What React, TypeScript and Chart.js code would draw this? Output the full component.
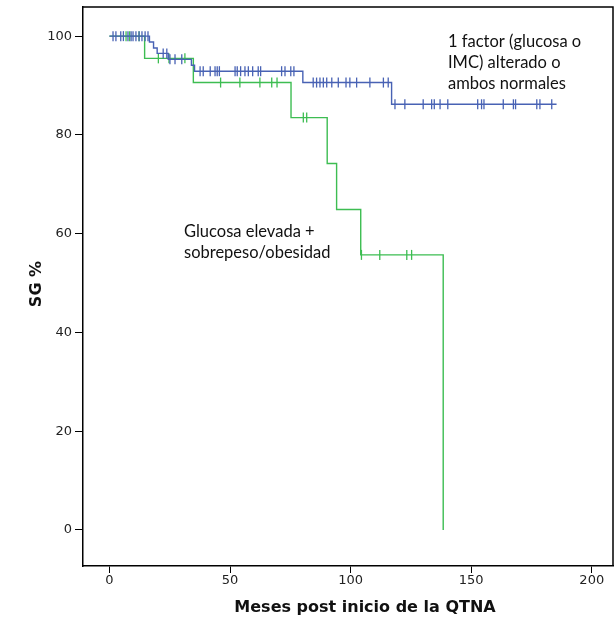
import React, { useEffect, useRef } from "react";
import { Chart, registerables } from "chart.js";

Chart.register(...registerables);

// Kaplan-Meier step data (event times in months, survival %)
const blueTimes = [0, 16.6, 18.3, 19.8, 24.4, 34.0, 35.3, 80.2, 117.0, 185.4];
const blueSurv = [100, 98.8, 97.6, 96.5, 95.3, 94.1, 92.9, 90.6, 86.2, 86.2];
const greenTimes = [0, 14.6, 34.8, 75.3, 90.3, 94.2, 104.2, 138.4];
const greenSurv = [100, 95.5, 90.6, 83.5, 74.2, 64.9, 55.7, 0];

// Censored observations (months)
const blueCensor = [1.5, 2.7, 4.7, 5.8, 7.7, 9.0, 9.8, 11.0, 12.3, 13.5, 14.8, 16.0, 22.3, 23.8, 25.1, 27.2, 30.0, 37.6, 38.9, 41.8, 43.8, 44.7, 45.6, 52.1, 53.0, 54.4, 56.2, 57.6, 59.4, 61.7, 62.7, 71.4, 72.8, 75.2, 76.5, 84.5, 85.9, 87.3, 88.7, 90.1, 92.2, 94.9, 98.1, 99.7, 102.5, 108.0, 113.6, 115.6, 118.4, 122.5, 130.1, 133.6, 134.7, 137.1, 140.3, 152.7, 154.3, 155.3, 163.3, 167.5, 168.4, 177.2, 178.5, 183.4];
const greenCensor = [6.9, 8.4, 12.3, 20.3, 24.7, 31.3, 46.1, 54.1, 62.4, 67.3, 69.5, 80.4, 81.8, 104.5, 112.1, 123.3, 125.3];

const xTicks = [0, 50, 100, 150, 200];
const yTicks = [0, 20, 40, 60, 80, 100];

const xTitle = "Meses post inicio de la QTNA";
const yTitle = "SG %";
const blueLabel = ["1 factor (glucosa o", "IMC) alterado o", "ambos normales"];
const greenLabel = ["Glucosa elevada +", "sobrepeso/obesidad"];

const BLUE = "#4862b4";
const GREEN = "#3dbd52";

function survAt(times: number[], surv: number[], t: number) {
  let v = surv[0];
  for (let i = 0; i < times.length; i++) if (times[i] <= t) v = surv[i];
  return v;
}

const decorPlugin = {
  id: "decor",
  afterDraw(chart: any) {
    const { ctx, chartArea } = chart;
    ctx.save();
    // frame top & right
    ctx.strokeStyle = "#000";
    ctx.lineWidth = 1.5;
    ctx.beginPath();
    ctx.moveTo(chartArea.left, chartArea.top);
    ctx.lineTo(chartArea.right, chartArea.top);
    ctx.lineTo(chartArea.right, chartArea.bottom);
    ctx.stroke();
    // annotations
    ctx.fillStyle = "#111";
    ctx.textAlign = "left";
    ctx.textBaseline = "alphabetic";
    ctx.font = "16.5px Lato";
    blueLabel.forEach((s, i) => ctx.fillText(s, 448, 47 + i * 20.8));
    greenLabel.forEach((s, i) => ctx.fillText(s, 184, 237 + i * 20.8));
    // axis titles
    ctx.fillStyle = "#111";
    ctx.font = "bold 16px 'DejaVu Sans'";
    ctx.textAlign = "center";
    ctx.fillText(xTitle, 365, 612);
    ctx.translate(37, 284);
    ctx.rotate(-Math.PI / 2);
    ctx.textBaseline = "middle";
    ctx.fillText(yTitle, 0, 0);
    ctx.restore();
  },
};

export default function App() {
  const ref = useRef<HTMLCanvasElement>(null);
  useEffect(() => {
    const stepData = (t: number[], s: number[]) => t.map((x, i) => ({ x, y: s[i] }));
    const censorData = (c: number[], t: number[], s: number[]) => c.map((x) => ({ x, y: survAt(t, s, x) }));
    const censorStyle = (color: string) => ({
      type: "scatter" as const,
      showLine: false,
      pointStyle: "line" as const,
      rotation: 90,
      pointRadius: 5,
      pointBorderWidth: 1.3,
      borderColor: color,
      backgroundColor: color,
    });
    const chart = new Chart(ref.current!, {
      type: "line",
      data: {
        datasets: [
          {
            label: "blue",
            data: stepData(blueTimes, blueSurv),
            stepped: "before",
            borderColor: BLUE,
            borderWidth: 1.4,
            pointRadius: 0,
            fill: false,
          } as any,
          { label: "blueC", data: censorData(blueCensor, blueTimes, blueSurv), ...censorStyle(BLUE) } as any,
          {
            label: "green",
            data: stepData(greenTimes, greenSurv),
            stepped: "before",
            borderColor: GREEN,
            borderWidth: 1.4,
            pointRadius: 0,
            fill: false,
          } as any,
          { label: "greenC", data: censorData(greenCensor, greenTimes, greenSurv), ...censorStyle(GREEN) } as any,
        ],
      },
      options: {
        animation: false,
        responsive: false,
        devicePixelRatio: 1,
        layout: { autoPadding: false, padding: { top: 7, right: 1, left: 0, bottom: 0 } },
        plugins: { legend: { display: false }, tooltip: { enabled: false } },
        scales: {
          x: {
            type: "linear",
            min: -10.95,
            max: 208.8,
            afterBuildTicks: (s: any) => { s.ticks = xTicks.map((v) => ({ value: v })); },
            afterFit: (s: any) => { s.height = 56; s.paddingLeft = 0; s.paddingRight = 0; },
            grid: { drawOnChartArea: false, drawTicks: true, tickLength: 7, color: "#000", lineWidth: 1 },
            border: { display: true, color: "#000", width: 1.5 },
            ticks: { font: { family: "DejaVu Sans", size: 13 }, color: "#222", padding: 0, maxRotation: 0 },
          },
          y: {
            type: "linear",
            min: -7.3,
            max: 105.9,
            afterBuildTicks: (s: any) => { s.ticks = yTicks.map((v) => ({ value: v })); },
            afterFit: (s: any) => { s.width = 83; s.paddingTop = 0; s.paddingBottom = 0; },
            grid: { drawOnChartArea: false, drawTicks: true, tickLength: 8, color: "#000", lineWidth: 1 },
            border: { display: true, color: "#000", width: 1.5 },
            ticks: { font: { family: "DejaVu Sans", size: 13 }, color: "#222", padding: 3 },
          },
        },
      } as any,
      plugins: [decorPlugin],
    });
    return () => chart.destroy();
  }, []);
  return (
    <div style={{ position: "fixed", left: 0, top: 0, width: 614, height: 622, background: "#fff" }}>
      <canvas ref={ref} width={614} height={622} style={{ display: "block", width: 614, height: 622 }} />
    </div>
  );
}
